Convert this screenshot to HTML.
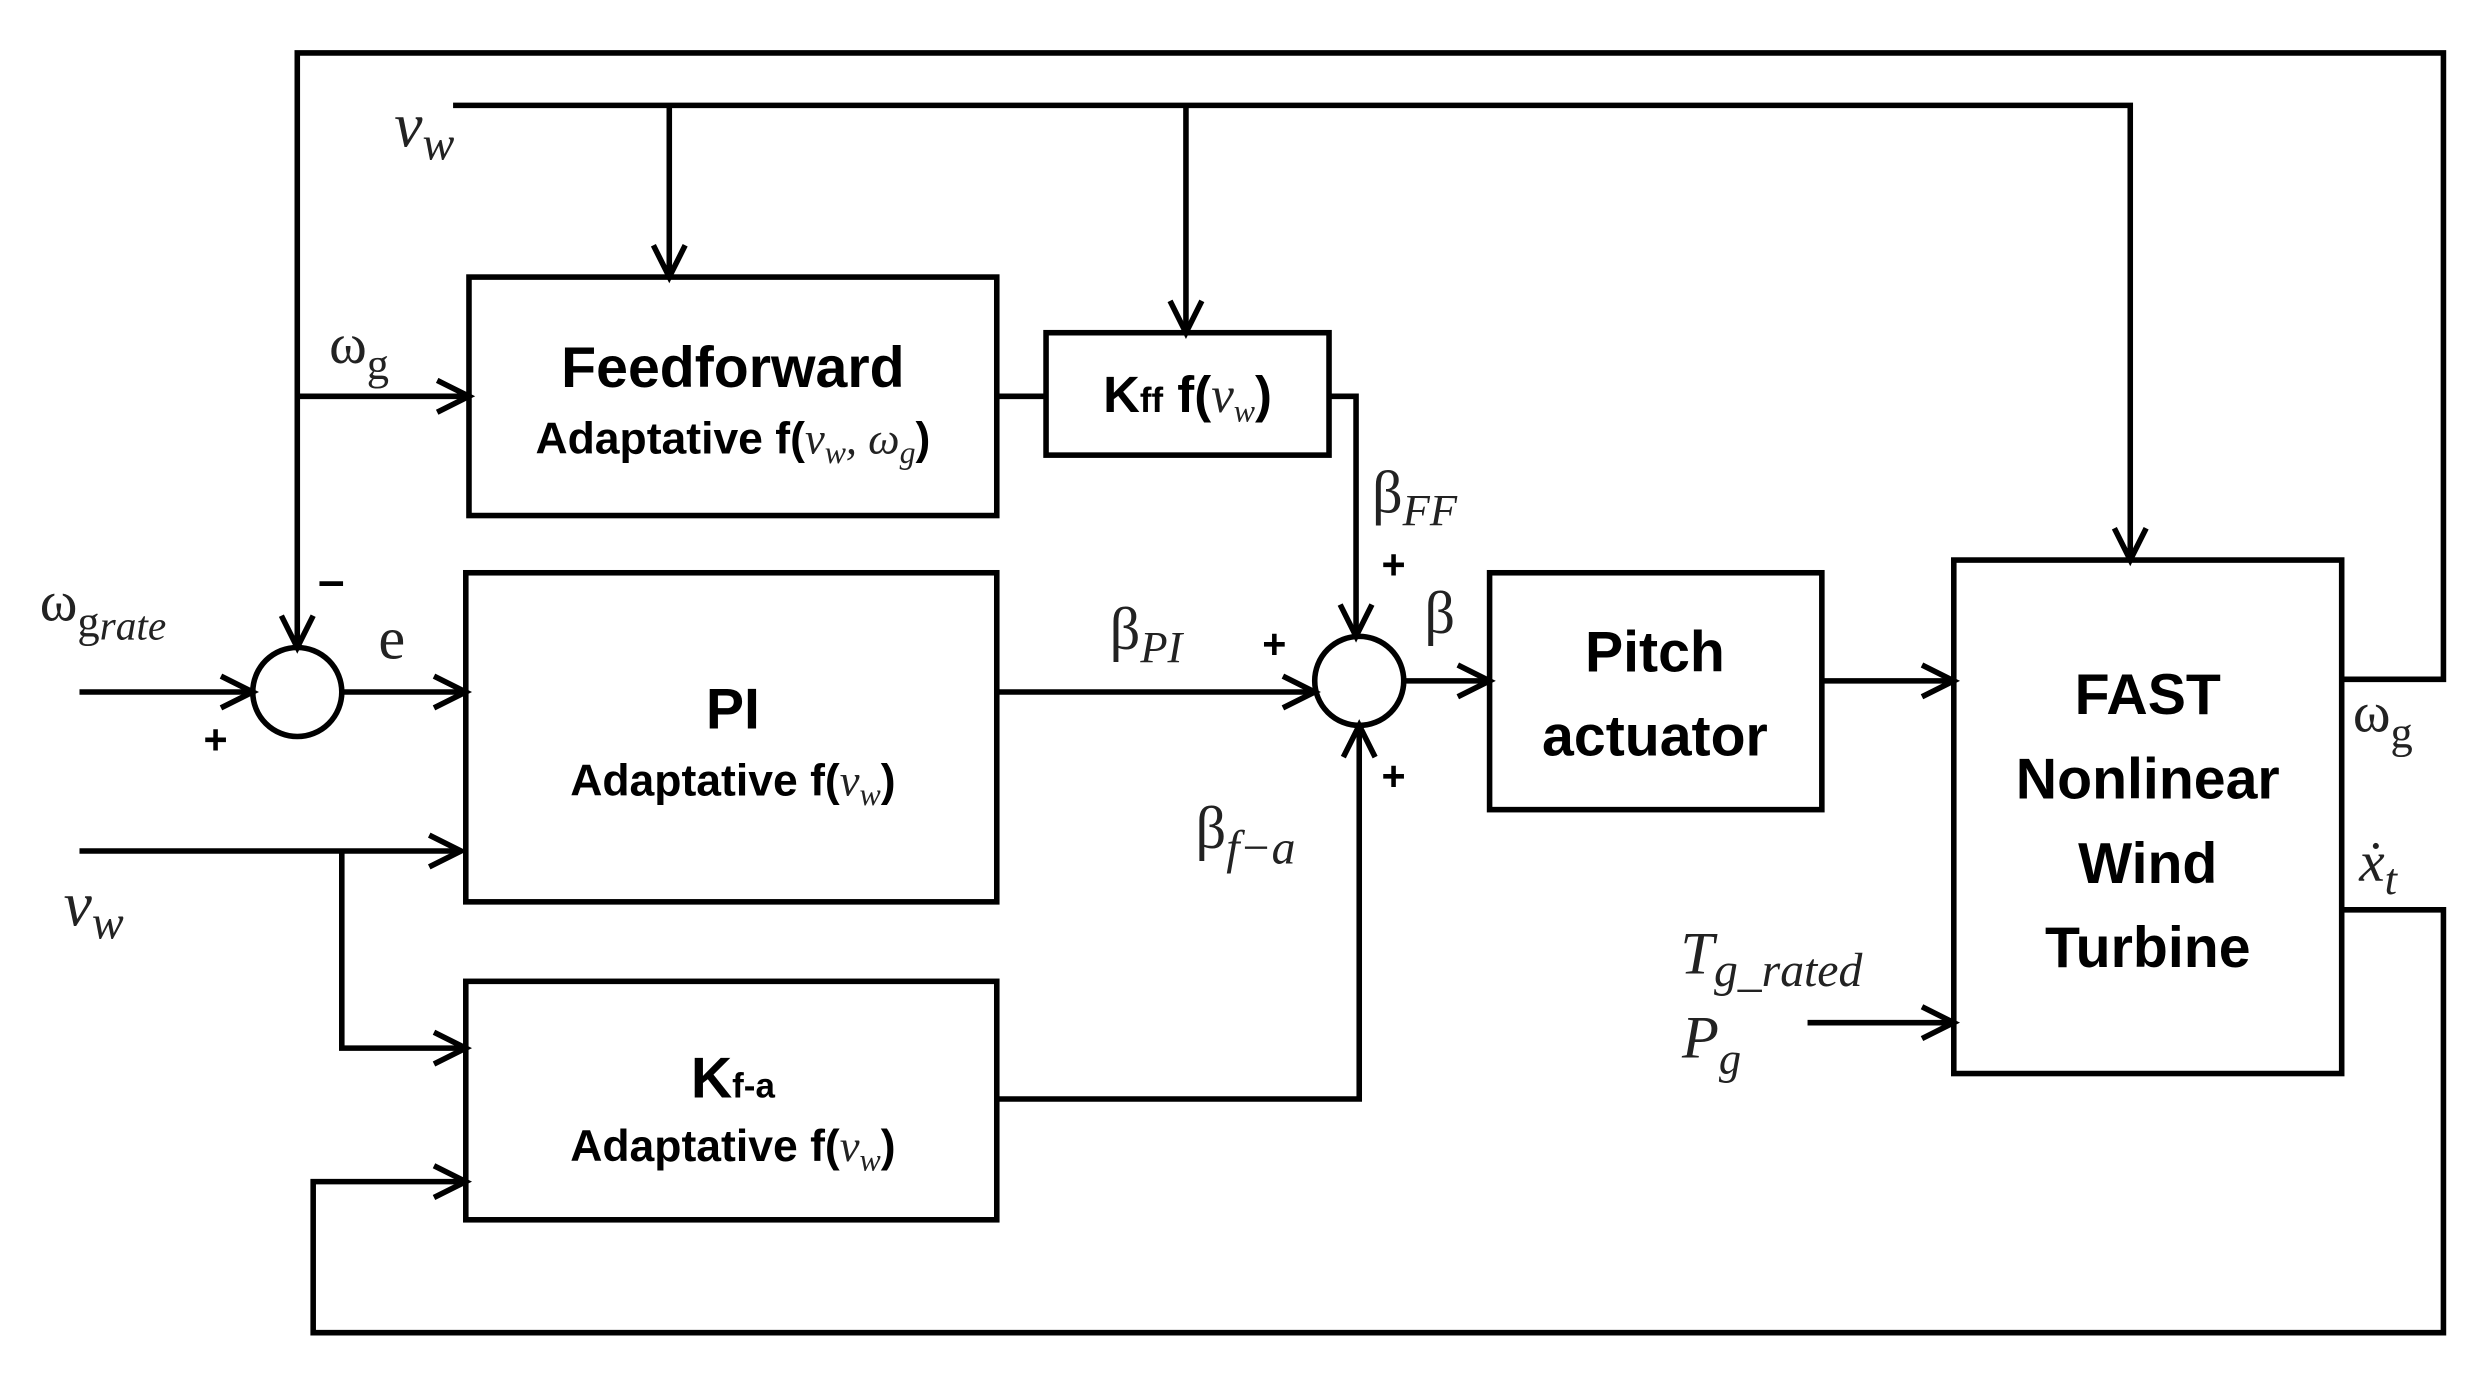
<!DOCTYPE html>
<html><head><meta charset="utf-8"><style>
html,body{margin:0;padding:0;background:#fff;}
svg{display:block;}
.b{font-family:"Liberation Sans",sans-serif;font-weight:bold;fill:#000;}
.m{font-family:"Liberation Serif",serif;fill:#222;}
.i{font-style:italic;}
</style></head><body>
<svg width="2480" height="1384" viewBox="0 0 1560 870" xmlns="http://www.w3.org/2000/svg">
<g fill="none" stroke="#000" stroke-width="3.5" stroke-linejoin="miter">
<polyline points="187,407 187,33 1537,33 1537,427 1473,427"/>
<polyline points="285,66 1340,66 1340,352"/>
<line x1="421" y1="66" x2="421" y2="174"/>
<line x1="746" y1="66" x2="746" y2="209"/>
<line x1="187" y1="249" x2="295" y2="249"/>
<rect x="295" y="174" width="332" height="150"/>
<rect x="658" y="209" width="178" height="77"/>
<rect x="293" y="360" width="334" height="207"/>
<rect x="293" y="617" width="334" height="150"/>
<rect x="937" y="360" width="209" height="149"/>
<rect x="1229" y="352" width="244" height="323"/>
<circle cx="187" cy="435" r="28"/>
<circle cx="855" cy="428" r="28"/>
<line x1="627" y1="249" x2="658" y2="249"/>
<polyline points="836,249 853,249 853,400"/>
<line x1="50" y1="435" x2="159" y2="435"/>
<line x1="215" y1="435" x2="293" y2="435"/>
<line x1="627" y1="435" x2="827" y2="435"/>
<line x1="883" y1="428" x2="937" y2="428"/>
<line x1="1146" y1="428" x2="1229" y2="428"/>
<line x1="50" y1="535" x2="290" y2="535"/>
<polyline points="215,535 215,659 293,659"/>
<polyline points="627,691 855,691 855,456"/>
<polyline points="1473,572 1537,572 1537,838 197,838 197,743 293,743"/>
<line x1="1137" y1="643" x2="1229" y2="643"/>
<g stroke-width="3.5">
<polyline points="411,154 421,174 431,154"/>
<polyline points="736,189 746,209 756,189"/>
<polyline points="1330,332 1340,352 1350,332"/>
<polyline points="177,387 187,407 197,387"/>
<polyline points="275,239 295,249 275,259"/>
<polyline points="139,425 159,435 139,445"/>
<polyline points="273,425 293,435 273,445"/>
<polyline points="843,380 853,400 863,380"/>
<polyline points="807,425 827,435 807,445"/>
<polyline points="917,418 937,428 917,438"/>
<polyline points="1209,418 1229,428 1209,438"/>
<polyline points="270,525 290,535 270,545"/>
<polyline points="273,649 293,659 273,669"/>
<polyline points="273,733 293,743 273,753"/>
<polyline points="845,476 855,456 865,476"/>
<polyline points="1209,633 1229,643 1209,653"/>
</g>
</g>
<text class="b" x="461" y="243" font-size="36" text-anchor="middle">Feedforward</text>
<text class="b" x="461" y="285" font-size="28" text-anchor="middle">Adaptative f(<tspan class="m i" font-weight="normal">v<tspan font-size="20" dy="6">w</tspan><tspan dy="-6">, ω</tspan><tspan font-size="20" dy="6">g</tspan></tspan><tspan dy="-6">)</tspan></text>
<text class="b" x="747" y="259" font-size="32" text-anchor="middle">K<tspan font-size="22">ff</tspan> f(<tspan class="m i" font-weight="normal">v<tspan font-size="20" dy="6">w</tspan></tspan><tspan dy="-6">)</tspan></text>
<text class="b" x="461" y="458" font-size="36" text-anchor="middle">PI</text>
<text class="b" x="461" y="500" font-size="28" text-anchor="middle">Adaptative f(<tspan class="m i" font-weight="normal">v<tspan font-size="20" dy="6">w</tspan></tspan><tspan dy="-6">)</tspan></text>
<text class="b" x="461" y="690" font-size="36" text-anchor="middle">K<tspan font-size="22">f-a</tspan></text>
<text class="b" x="461" y="730" font-size="28" text-anchor="middle">Adaptative f(<tspan class="m i" font-weight="normal">v<tspan font-size="20" dy="6">w</tspan></tspan><tspan dy="-6">)</tspan></text>
<text class="b" x="1041" y="422" font-size="36" text-anchor="middle">Pitch</text>
<text class="b" x="1041" y="475" font-size="36" text-anchor="middle">actuator</text>
<text class="b" x="1351" y="449" font-size="36" text-anchor="middle">FAST</text>
<text class="b" x="1351" y="502" font-size="36" text-anchor="middle">Nonlinear</text>
<text class="b" x="1351" y="555" font-size="36" text-anchor="middle">Wind</text>
<text class="b" x="1351" y="608" font-size="36" text-anchor="middle">Turbine</text>
<text class="m i" x="248" y="92" font-size="40">v<tspan font-size="30" dy="8">w</tspan></text>
<text class="m" x="207" y="228" font-size="36">ω<tspan font-size="28" dy="10">g</tspan></text>
<text class="m" x="25" y="390" font-size="36">ω<tspan font-size="28" dy="10">g</tspan><tspan class="i" font-size="26" dy="2">rate</tspan></text>
<text class="b" x="200" y="375" font-size="30">–</text>
<text class="b" x="128" y="474" font-size="26">+</text>
<text class="m" x="238" y="414" font-size="38">e</text>
<text class="m" x="698" y="408" font-size="38">β<tspan class="i" font-size="28" dy="8">PI</tspan></text>
<text class="b" x="794" y="414" font-size="26">+</text>
<text class="m" x="863" y="322" font-size="38">β<tspan class="i" font-size="28" dy="8">FF</tspan></text>
<text class="b" x="869" y="364" font-size="26">+</text>
<text class="m" x="896" y="398" font-size="38">β</text>
<text class="b" x="869" y="497" font-size="26">+</text>
<text class="m" x="752" y="533" font-size="38">β<tspan class="i" font-size="30" dy="10">f−a</tspan></text>
<text class="m i" x="40" y="582" font-size="40">v<tspan font-size="30" dy="8">w</tspan></text>
<text class="m" x="1480" y="460" font-size="36">ω<tspan font-size="28" dy="10">g</tspan></text>
<text class="m i" x="1484" y="554" font-size="36">ẋ<tspan font-size="28" dy="8">t</tspan></text>
<text class="m i" x="1057" y="612" font-size="38">T<tspan font-size="30" dy="8">g_rated</tspan></text>
<text class="m i" x="1058" y="665" font-size="38">P<tspan font-size="28" dy="10">g</tspan></text>
</svg>
</body></html>
